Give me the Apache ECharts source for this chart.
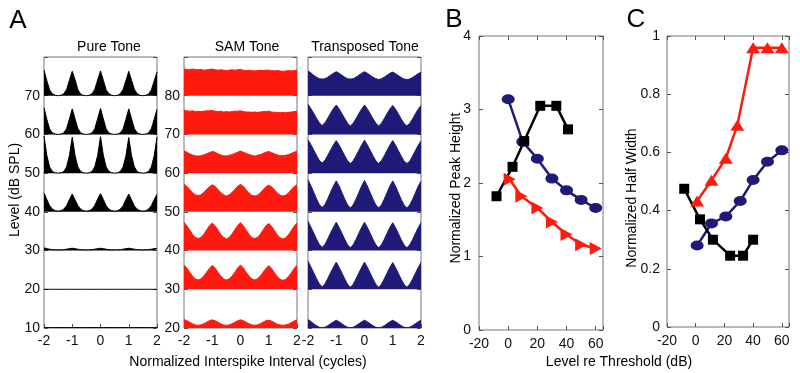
<!DOCTYPE html>
<html>
<head>
<meta charset="utf-8">
<script src="https://cdn.jsdelivr.net/npm/echarts@6/dist/echarts.min.js"></script>
<style>
  html, body { margin: 0; padding: 0; background: #fff; }
  #chart { width: 800px; height: 373px; }
</style>
</head>
<body>
<div id="chart"></div>
<script>
// 面板A：间隔直方图（每行高度以10 dB为一格）
const bins = [
  -2, -1.9, -1.8, -1.7, -1.6, -1.5, -1.4, -1.3, -1.2, -1.1,
  -1, -0.9, -0.8, -0.7, -0.6, -0.5, -0.4, -0.3, -0.2, -0.1,
  0, 0.1, 0.2, 0.3, 0.4, 0.5, 0.6, 0.7, 0.8, 0.9,
  1, 1.1, 1.2, 1.3, 1.4, 1.5, 1.6, 1.7, 1.8, 1.9, 2
];
const pureLevels = [70, 60, 50, 40, 30, 20, 10];
const pureRows = [
  [6.6, 3.9, 1.5, 0.5, 0.1, 0, 0.1, 0.5, 1.6, 4.0, 6.3, 4.1, 1.6, 0.4, 0.1, 0, 0.1, 0.5, 1.7, 4.1, 6.4, 4.0, 1.5, 0.5, 0.1, 0, 0.1, 0.5, 1.6, 3.9, 6.3, 4.0, 1.6, 0.5, 0.1, 0, 0.1, 0.4, 1.5, 3.8, 6.1],
  [6.9, 3.9, 1.4, 0.4, 0.1, 0, 0.1, 0.4, 1.5, 4.0, 6.6, 4.0, 1.5, 0.4, 0.1, 0, 0.1, 0.4, 1.5, 4.1, 6.7, 4.0, 1.4, 0.4, 0.1, 0, 0.1, 0.4, 1.4, 3.9, 6.6, 4.0, 1.5, 0.4, 0.1, 0, 0.1, 0.4, 1.5, 3.9, 6.5],
  [9.6, 4.6, 1.6, 0.4, 0.1, 0, 0.1, 0.4, 1.6, 4.6, 9.3, 4.5, 1.6, 0.4, 0.1, 0, 0.1, 0.4, 1.7, 4.6, 9.4, 4.6, 1.6, 0.4, 0.1, 0, 0.1, 0.4, 1.6, 4.5, 9.2, 4.5, 1.6, 0.4, 0.1, 0, 0.1, 0.4, 1.6, 4.5, 9.3],
  [4.9, 3.2, 1.6, 0.7, 0.3, 0.2, 0.3, 0.7, 1.6, 3.2, 4.6, 3.1, 1.6, 0.7, 0.3, 0.2, 0.3, 0.7, 1.7, 3.3, 4.7, 3.2, 1.6, 0.7, 0.3, 0.2, 0.3, 0.7, 1.6, 3.2, 4.6, 3.1, 1.5, 0.7, 0.3, 0.2, 0.3, 0.7, 1.6, 3.2, 4.5],
  [0.7, 0.5, 0.35, 0.25, 0.2, 0.2, 0.2, 0.25, 0.35, 0.5, 0.6, 0.5, 0.35, 0.25, 0.2, 0.2, 0.2, 0.25, 0.35, 0.5, 0.6, 0.5, 0.35, 0.25, 0.2, 0.2, 0.2, 0.25, 0.35, 0.5, 0.6, 0.5, 0.35, 0.25, 0.2, 0.2, 0.2, 0.25, 0.35, 0.5, 0.5],
  [0, 0, 0, 0, 0, 0, 0, 0, 0, 0, 0, 0, 0, 0, 0, 0, 0, 0, 0, 0, 0, 0, 0, 0, 0, 0, 0, 0, 0, 0, 0, 0, 0, 0, 0, 0, 0, 0, 0, 0, 0],
  [0.1, 0.1, 0.1, 0.1, 0.1, 0.1, 0.1, 0.1, 0.1, 0.1, 0.1, 0.1, 0.1, 0.1, 0.1, 0.1, 0.1, 0.1, 0.1, 0.1, 0.1, 0.1, 0.1, 0.1, 0.1, 0.1, 0.1, 0.1, 0.1, 0.1, 0.1, 0.1, 0.1, 0.1, 0.1, 0.1, 0.1, 0.1, 0.1, 0.1, 0.1]
];
const samLevels = [80, 70, 60, 50, 40, 30, 20];
const samRows = [
  [6.9, 6.8, 6.7, 6.9, 6.8, 6.7, 6.8, 6.6, 6.7, 6.8, 6.9, 6.7, 6.6, 6.7, 6.6, 6.5, 6.6, 6.7, 6.6, 6.7, 6.8, 6.6, 6.5, 6.6, 6.5, 6.4, 6.5, 6.6, 6.5, 6.6, 6.6, 6.5, 6.4, 6.5, 6.4, 6.3, 6.4, 6.5, 6.4, 6.5, 6.6],
  [6.3, 6.1, 6.0, 6.1, 5.9, 6.0, 5.9, 6.0, 6.1, 6.1, 6.2, 6.0, 5.9, 6.0, 5.8, 5.9, 5.8, 5.9, 6.0, 6.0, 6.1, 5.9, 5.8, 5.8, 5.7, 5.8, 5.7, 5.8, 5.9, 5.9, 6.0, 5.8, 5.7, 5.7, 5.6, 5.7, 5.6, 5.7, 5.8, 5.9, 6.0],
  [5.8, 5.4, 5.0, 4.7, 4.5, 4.4, 4.5, 4.7, 5.0, 5.3, 5.6, 5.4, 5.0, 4.7, 4.5, 4.4, 4.6, 4.8, 5.1, 5.4, 5.7, 5.4, 5.1, 4.8, 4.6, 4.4, 4.6, 4.8, 5.1, 5.4, 5.6, 5.3, 5.0, 4.7, 4.5, 4.5, 4.6, 4.8, 5.1, 5.4, 5.7],
  [7.2, 6.6, 5.8, 5.0, 4.4, 4.2, 4.4, 5.0, 5.8, 6.5, 7.0, 6.6, 5.8, 5.0, 4.4, 4.1, 4.4, 5.0, 5.8, 6.6, 7.1, 6.6, 5.7, 4.9, 4.3, 4.1, 4.3, 4.9, 5.7, 6.5, 6.9, 6.5, 5.7, 4.9, 4.3, 4.1, 4.3, 4.9, 5.8, 6.5, 7.0],
  [7.3, 6.4, 5.3, 4.2, 3.4, 3.1, 3.4, 4.2, 5.3, 6.4, 7.1, 6.4, 5.3, 4.2, 3.4, 3.0, 3.4, 4.3, 5.4, 6.5, 7.2, 6.4, 5.3, 4.2, 3.4, 3.1, 3.4, 4.2, 5.3, 6.4, 7.0, 6.3, 5.2, 4.1, 3.3, 3.0, 3.3, 4.1, 5.2, 6.3, 7.1],
  [6.3, 5.5, 4.4, 3.4, 2.7, 2.4, 2.7, 3.4, 4.4, 5.4, 6.2, 5.5, 4.4, 3.4, 2.7, 2.4, 2.7, 3.4, 4.4, 5.5, 6.3, 5.5, 4.4, 3.4, 2.7, 2.4, 2.7, 3.4, 4.4, 5.4, 6.1, 5.4, 4.3, 3.3, 2.6, 2.3, 2.6, 3.3, 4.3, 5.4, 6.2],
  [2.2, 1.9, 1.5, 1.1, 0.8, 0.7, 0.8, 1.1, 1.5, 1.9, 2.1, 1.9, 1.5, 1.1, 0.8, 0.7, 0.8, 1.1, 1.5, 1.9, 2.1, 1.9, 1.5, 1.1, 0.8, 0.7, 0.8, 1.1, 1.5, 1.9, 2.0, 1.8, 1.4, 1.0, 0.8, 0.7, 0.8, 1.0, 1.4, 1.8, 2.1]
];
const transRows = [
  [6.4, 5.9, 5.3, 4.8, 4.4, 4.3, 4.4, 4.8, 5.3, 5.8, 6.2, 5.8, 5.3, 4.8, 4.4, 4.3, 4.4, 4.8, 5.3, 5.8, 6.2, 5.8, 5.3, 4.8, 4.4, 4.2, 4.4, 4.8, 5.3, 5.8, 6.1, 5.7, 5.2, 4.7, 4.3, 4.2, 4.3, 4.7, 5.2, 5.7, 6.1],
  [7.8, 6.7, 5.5, 4.2, 3.0, 2.3, 3.0, 4.2, 5.5, 6.7, 7.6, 6.6, 5.4, 4.1, 2.9, 2.2, 2.9, 4.1, 5.4, 6.6, 7.6, 6.6, 5.4, 4.1, 2.9, 2.2, 2.9, 4.1, 5.4, 6.6, 7.5, 6.5, 5.3, 4.0, 2.8, 2.2, 2.8, 4.0, 5.3, 6.5, 7.5],
  [8.6, 7.4, 6.0, 4.6, 3.3, 2.6, 3.3, 4.6, 6.0, 7.3, 8.4, 7.3, 5.9, 4.5, 3.2, 2.5, 3.2, 4.5, 5.9, 7.3, 8.5, 7.3, 5.9, 4.5, 3.2, 2.5, 3.2, 4.5, 5.9, 7.3, 8.4, 7.2, 5.8, 4.4, 3.1, 2.5, 3.1, 4.4, 5.8, 7.2, 8.3],
  [8.3, 6.8, 5.1, 3.4, 1.9, 1.1, 1.9, 3.4, 5.1, 6.7, 8.0, 6.7, 5.0, 3.3, 1.8, 1.0, 1.8, 3.3, 5.0, 6.7, 8.1, 6.7, 5.0, 3.3, 1.8, 1.0, 1.8, 3.3, 5.0, 6.7, 8.0, 6.6, 4.9, 3.2, 1.8, 1.0, 1.8, 3.2, 4.9, 6.6, 7.9],
  [7.6, 6.1, 4.6, 3.0, 1.6, 0.8, 1.6, 3.0, 4.6, 6.0, 7.3, 6.0, 4.5, 2.9, 1.5, 0.7, 1.5, 2.9, 4.5, 6.0, 7.3, 6.0, 4.5, 2.9, 1.5, 0.7, 1.5, 2.9, 4.5, 6.0, 7.2, 5.9, 4.4, 2.8, 1.5, 0.7, 1.5, 2.8, 4.4, 5.9, 7.2],
  [7.3, 5.8, 4.3, 2.8, 1.4, 0.6, 1.4, 2.8, 4.3, 5.7, 7.0, 5.7, 4.2, 2.7, 1.3, 0.5, 1.3, 2.7, 4.2, 5.7, 7.0, 5.7, 4.2, 2.7, 1.3, 0.5, 1.3, 2.7, 4.2, 5.7, 6.9, 5.6, 4.1, 2.6, 1.3, 0.5, 1.3, 2.6, 4.1, 5.6, 6.9],
  [2.2, 1.7, 1.1, 0.6, 0.2, 0.1, 0.2, 0.6, 1.1, 1.6, 2.0, 1.6, 1.1, 0.6, 0.2, 0.1, 0.2, 0.6, 1.1, 1.6, 2.0, 1.6, 1.1, 0.6, 0.2, 0.1, 0.2, 0.6, 1.1, 1.6, 2.0, 1.6, 1.1, 0.6, 0.2, 0.1, 0.2, 0.6, 1.1, 1.6, 2.0]
];

// 面板B：归一化峰高
const peakBlueX = [0, 10, 20, 30, 40, 50, 60];
const peakBlue = [3.14, 2.56, 2.33, 2.06, 1.90, 1.77, 1.66];
const peakRedX = [1, 9, 20, 30, 40, 50, 60];
const peakRed = [2.05, 1.82, 1.66, 1.47, 1.30, 1.16, 1.11];
const peakBlackX = [-8, 3, 11, 22, 33, 41];
const peakBlack = [1.82, 2.22, 2.57, 3.05, 3.05, 2.73];

// 面板C：归一化半宽
const widthBlueX = [1, 11, 21, 31, 40, 50, 60];
const widthBlue = [0.28, 0.356, 0.38, 0.433, 0.505, 0.568, 0.607];
const widthRedX = [1, 11, 21, 29, 40, 50, 60];
const widthRed = [0.433, 0.504, 0.58, 0.693, 0.96, 0.96, 0.96];
const widthBlackX = [-8, 3, 12, 24, 33, 40];
const widthBlack = [0.475, 0.37, 0.30, 0.245, 0.245, 0.30];

const RED = '#ff1a10';
const BLUE = '#1f1a78';
const FONT = 'Liberation Sans';
const FS = 14;

const chart = echarts.init(document.getElementById('chart'));

const tick = { show: true, inside: true, length: 4, lineStyle: { color: '#555' } };
const noLine = { show: false, onZero: false };
const label = { color: '#111', fontSize: FS, fontFamily: FONT };

function xAxisA(grid) {
  return {
    type: 'value', gridIndex: grid, min: -2, max: 2, interval: 1,
    axisLine: noLine, axisTick: tick, splitLine: { show: false },
    axisLabel: Object.assign({ margin: 6 }, label)
  };
}
function yAxisA(grid, min, max, showLabel) {
  return {
    type: 'value', gridIndex: grid, min: min, max: max, interval: 10, position: 'left',
    axisLine: noLine, axisTick: tick, splitLine: { show: false },
    axisLabel: Object.assign({
      show: showLabel, margin: 4,
      formatter: v => (v === max ? '' : String(v))
    }, label)
  };
}
function mirrorX(grid, min, max, interval) {
  return {
    type: 'value', gridIndex: grid, min: min, max: max, interval: interval, position: 'top',
    axisLine: noLine, axisTick: tick, splitLine: { show: false },
    axisLabel: { show: false }
  };
}
function mirrorY(grid, min, max, interval) {
  return {
    type: 'value', gridIndex: grid, min: min, max: max, interval: interval, position: 'right',
    axisLine: noLine, axisTick: tick, splitLine: { show: false },
    axisLabel: { show: false }
  };
}

function rowSeries(rows, levels, axis, color) {
  return rows.map((row, r) => ({
    type: 'line',
    xAxisIndex: axis,
    yAxisIndex: axis,
    symbol: 'none',
    silent: true,
    data: bins.map((x, i) => [x, levels[r] + row[i]]),
    lineStyle: { color: color, width: 1 },
    areaStyle: { color: color, opacity: 1, origin: levels[r] }
  }));
}

function pts(xs, ys) {
  return xs.map((x, i) => [x, ys[i]]);
}

function markerLine(xAxis, yAxis, xs, ys, color, symbol, size, rotate) {
  return {
    type: 'line',
    xAxisIndex: xAxis,
    yAxisIndex: yAxis,
    data: pts(xs, ys),
    symbol: symbol,
    symbolSize: size,
    symbolRotate: rotate || 0,
    showAllSymbol: true,
    lineStyle: { color: color, width: 2.5 },
    itemStyle: { color: color }
  };
}

function text(x, y, str, size, rotate) {
  return {
    type: 'text', x: x, y: y, rotation: rotate || 0,
    style: { text: str, fontSize: size, fontFamily: FONT, fill: '#000', align: 'center', verticalAlign: 'middle' }
  };
}

const gridStyle = { show: true, borderColor: '#777', borderWidth: 1, backgroundColor: 'transparent' };

const option = {
  animation: false,
  textStyle: { fontFamily: FONT },
  grid: [
    Object.assign({ left: 44, top: 57, width: 113, height: 271 }, gridStyle),
    Object.assign({ left: 184, top: 57, width: 113, height: 271 }, gridStyle),
    Object.assign({ left: 308, top: 57, width: 113, height: 271 }, gridStyle),
    Object.assign({ left: 479, top: 36, width: 124, height: 294 }, gridStyle),
    Object.assign({ left: 667, top: 36, width: 122, height: 291 }, gridStyle)
  ],
  xAxis: [
    xAxisA(0),
    xAxisA(1),
    xAxisA(2),
    {
      type: 'value', gridIndex: 3, min: -20, max: 65, interval: 20,
      axisLine: noLine, axisTick: tick, splitLine: { show: false },
      axisLabel: Object.assign({ margin: 7, formatter: v => (v % 20 === 0 ? String(v) : '') }, label)
    },
    {
      type: 'value', gridIndex: 4, min: -20, max: 65, interval: 20,
      axisLine: noLine, axisTick: tick, splitLine: { show: false },
      axisLabel: Object.assign({ margin: 7, formatter: v => (v % 20 === 0 ? String(v) : '') }, label)
    },
    mirrorX(3, -20, 65, 20),
    mirrorX(4, -20, 65, 20)
  ],
  yAxis: [
    yAxisA(0, 10, 80, true),
    yAxisA(1, 20, 90, true),
    yAxisA(2, 20, 90, false),
    {
      type: 'value', gridIndex: 3, min: 0, max: 4, interval: 1, position: 'left',
      axisLine: noLine, axisTick: tick, splitLine: { show: false },
      axisLabel: Object.assign({ margin: 8 }, label)
    },
    {
      type: 'value', gridIndex: 4, min: 0, max: 1, interval: 0.2, position: 'left',
      axisLine: noLine, axisTick: tick, splitLine: { show: false },
      axisLabel: Object.assign({ margin: 7, formatter: v => String(+v.toFixed(1)) }, label)
    },
    mirrorY(0, 10, 80, 10),
    mirrorY(1, 20, 90, 10),
    mirrorY(2, 20, 90, 10),
    mirrorY(3, 0, 4, 1),
    mirrorY(4, 0, 1, 0.2)
  ],
  series: [].concat(
    rowSeries(pureRows, pureLevels, 0, '#000'),
    rowSeries(samRows, samLevels, 1, RED),
    rowSeries(transRows, samLevels, 2, BLUE),
    [
      markerLine(3, 3, peakBlueX, peakBlue, BLUE, 'circle', [13, 10]),
      markerLine(3, 3, peakRedX, peakRed, RED, 'triangle', [13, 12], -90),
      markerLine(3, 3, peakBlackX, peakBlack, '#000', 'rect', 10),
      markerLine(4, 4, widthBlueX, widthBlue, BLUE, 'circle', [13, 10]),
      markerLine(4, 4, widthRedX, widthRed, RED, 'triangle', [14, 11]),
      markerLine(4, 4, widthBlackX, widthBlack, '#000', 'rect', 10)
    ]
  ),
  graphic: [
    text(18, 21, 'A', 26),
    text(454, 20, 'B', 26),
    text(636, 20, 'C', 26),
    text(109, 47, 'Pure Tone', FS),
    text(247, 47, 'SAM Tone', FS),
    text(365, 47, 'Transposed Tone', FS),
    text(248, 362, 'Normalized Interspike Interval (cycles)', FS),
    text(619, 362, 'Level re Threshold (dB)', FS),
    text(15, 190, 'Level (dB SPL)', FS, Math.PI / 2),
    text(456, 188, 'Normalized Peak Height', FS, Math.PI / 2),
    text(632, 198, 'Normalized Half Width', FS, Math.PI / 2)
  ]
};

chart.setOption(option);
</script>
</body>
</html>
